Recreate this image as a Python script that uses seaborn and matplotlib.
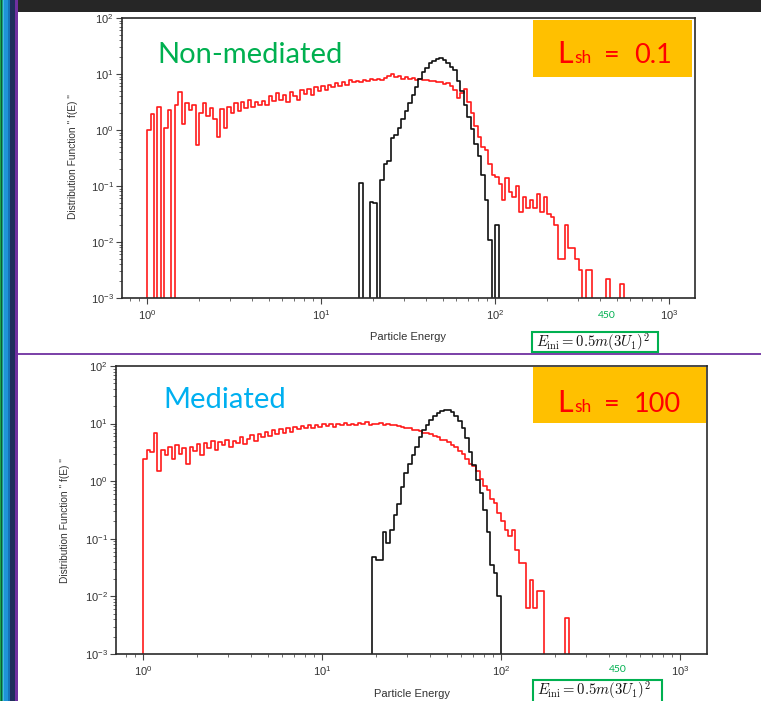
import numpy as np
import matplotlib
matplotlib.use("Agg")
import matplotlib.pyplot as plt
import seaborn as sns
from matplotlib.patches import Rectangle
from matplotlib.ticker import LogLocator, NullFormatter

# ---------------------------------------------------------------------------
# data: histogram bin contents f(E), log-spaced bins of 0.02 dex starting at E=1
# ---------------------------------------------------------------------------
BIN_DEX = 0.02

# top panel (non-mediated, L_sh = 0.1)
top_red_first_bin = 0
top_red_f = [
    1.0, 1.9, 0, 2.6, 0, 1.1, 2.3, 0, 2.8, 4.8,
    1.3, 3.0, 2.3, 2.8, 0.54, 2.0, 3.0, 1.8, 2.5, 1.6,
    0.76, 2.4, 1.1, 2.6, 2.0, 3.0, 2.2, 3.2, 2.5, 3.5,
    2.6, 3.2, 2.8, 3.3, 2.8, 4.0, 3.3, 4.6, 3.5, 4.2,
    3.2, 4.8, 4.0, 3.5, 5.2, 4.4, 5.5, 4.2, 5.8, 5.0,
    6.0, 5.2, 6.3, 5.8, 6.8, 6.0, 7.2, 6.3, 7.9, 7.2,
    7.6, 7.2, 7.9, 7.6, 8.1, 7.8, 8.3, 7.9, 8.5, 9.3,
    10.0, 8.7, 9.1, 8.3, 8.7, 8.1, 8.5, 7.9, 8.3, 7.8,
    7.9, 7.4, 7.6, 7.1, 7.2, 6.6, 6.9, 6.0, 5.2, 3.8,
    4.6, 5.5, 3.2, 2.0, 1.2, 0.74, 0.50, 0.44, 0.25, 0.16,
    0.145, 0.11, 0.056, 0.14, 0.079, 0.063, 0.10, 0.035, 0.063, 0.040,
    0.056, 0.040, 0.071, 0.035, 0.063, 0.032, 0.028, 0.020, 0.005, 0.005,
    0.020, 0.0079, 0.0079, 0.005, 0.0032, 0, 0.0032, 0.0032, 0, 0,
    0, 0, 0.0022, 0, 0, 0, 0.0018,
]
top_black_first_bin = 61
top_black_f = [
    0.115, 0, 0, 0.052, 0.050, 0, 0.13, 0.25, 0.28, 0.71,
    0.83, 1.1, 1.6, 2.2, 3.0, 4.2, 5.8, 8.3, 11.0, 13.0,
    15.5, 17.0, 18.6, 19.0, 17.8, 15.5, 13.2, 12.0, 7.6, 5.0,
    2.8, 1.7, 1.05, 0.56, 0.35, 0.16, 0.056, 0.011, 0, 0.020,
]

# bottom panel (mediated, L_sh = 100)
bot_red_first_bin = 0
bot_red_f = [
    2.4, 3.5, 3.2, 6.8, 1.5, 3.5, 2.8, 4.0, 2.4, 4.2,
    3.0, 3.8, 2.0, 4.0, 3.3, 4.4, 2.8, 4.6, 3.8, 5.0,
    3.5, 4.8, 4.2, 5.2, 4.0, 5.0, 4.6, 5.8, 4.4, 5.5,
    6.3, 5.0, 6.6, 5.8, 7.2, 6.0, 7.6, 6.6, 7.9, 6.9,
    8.3, 7.2, 8.7, 7.9, 9.1, 8.3, 9.5, 8.5, 9.3, 8.9,
    10.0, 9.1, 9.8, 8.9, 10.0, 9.3, 10.2, 9.5, 10.0, 9.3,
    10.2, 9.8, 10.5, 9.5, 10.0, 9.8, 10.2, 9.5, 10.0, 9.3,
    9.5, 9.1, 8.9, 8.3, 8.5, 7.8, 7.6, 7.4, 6.9, 6.8,
    6.5, 6.0, 5.9, 5.2, 5.1, 4.8, 4.3, 4.0, 3.3, 3.0,
    2.4, 2.0, 1.8, 1.5, 1.1, 0.83, 0.71, 0.50, 0.42, 0.28,
    0.20, 0.14, 0.11, 0.14, 0.063, 0.038, 0.038, 0.0063, 0.019, 0.0063,
    0.0126, 0.0126, 0, 0, 0, 0, 0, 0, 0.0042,
]
bot_black_first_bin = 64
bot_black_f = [
    0.049, 0.043, 0.043, 0.13, 0.083, 0.14, 0.26, 0.40, 0.79, 1.4,
    2.0, 2.8, 4.0, 5.8, 7.6, 9.5, 11.7, 13.5, 15.1, 16.6,
    17.4, 17.4, 16.2, 13.8, 11.2, 8.3, 5.6, 3.2, 1.9, 1.05,
    0.63, 0.32, 0.13, 0.035, 0.025, 0.010,
]

x_major = [1, 10, 100, 1000]
panel_names = ["Non-mediated", "Mediated"]
panel_colors = ["#00B050", "#00B0F0"]
lsh_values = ["0.1", "100"]
e_marker = "450"
e_formula = r"$E_{\rm ini} = 0.5m(3U_1)^2$"
ylabel = 'Distribution Function " f(E) "'
xlabel = "Particle Energy"

RED = "#FF1A1A"
BLACK = "#111111"

W, H = 761, 701

sns.set_style("ticks")
plt.rcParams["font.family"] = ["Liberation Sans", "DejaVu Sans"]
plt.rcParams["mathtext.fontset"] = "custom"
plt.rcParams["mathtext.rm"] = "Liberation Sans"
plt.rcParams["mathtext.it"] = "Liberation Sans:italic"
plt.rcParams["mathtext.bf"] = "Liberation Sans:bold"


def fx(x):
    return x / W


def fy(y):
    return 1 - y / H


def step_hist(ax, first_bin, values, color):
    vals = np.asarray(values, dtype=float)
    edges = 10 ** (BIN_DEX * (first_bin + np.arange(len(vals) + 1)))
    x = np.concatenate([[edges[0]], edges])
    y = np.concatenate([[0.0], vals, [0.0]])
    sns.lineplot(x=x, y=y, ax=ax, estimator=None, sort=False,
                 drawstyle="steps-post", color=color, lw=1.2)


def style_axes(ax, xlim):
    ax.set_xscale("log")
    ax.set_yscale("log")
    ax.set_xlim(*xlim)
    ax.set_ylim(1e-3, 1e2)
    ax.set_xticks(x_major)
    ax.xaxis.set_minor_locator(LogLocator(base=10, subs=np.arange(2, 10), numticks=30))
    ax.xaxis.set_minor_formatter(NullFormatter())
    ax.yaxis.set_major_locator(LogLocator(base=10, numticks=10))
    ax.yaxis.set_minor_locator(LogLocator(base=10, subs=np.arange(2, 10), numticks=30))
    ax.yaxis.set_minor_formatter(NullFormatter())
    ax.tick_params(which="major", direction="out", length=4, width=0.8,
                   color="#444444", labelsize=8, labelcolor="#333333", pad=3)
    ax.tick_params(which="minor", direction="out", length=2.5, width=0.6, color="#555555")
    ax.tick_params(axis="y", pad=2)
    for s in ax.spines.values():
        s.set_color("#2a2a2a")
        s.set_linewidth(1.2)
    ax.set_xlabel("")
    ax.set_ylabel("")


fig = plt.figure(figsize=(W / 100, H / 100), dpi=100, facecolor="white")

# axes boxes (pixel positions)
panels = [
    dict(box=(122, 18, 695, 298), xlim=(0.718, 1410),
         red=(top_red_first_bin, top_red_f), black=(top_black_first_bin, top_black_f),
         ylab=(73, 157), xlab=(408, 337), name_xy=(157, 63), lsh_box=(533, 20, 692, 77),
         lsh_base=63, mark_xy=(607, 315), formula_box=(532, 332, 658, 352), formula_y=342.5),
    dict(box=(116, 366, 707, 654), xlim=(0.706, 1416),
         red=(bot_red_first_bin, bot_red_f), black=(bot_black_first_bin, bot_black_f),
         ylab=(65, 521), xlab=(412, 694), name_xy=(163, 408), lsh_box=(533, 367, 706, 423),
         lsh_base=412, mark_xy=(618, 669), formula_box=(533, 680, 662, 703), formula_y=690.5),
]

for i, p in enumerate(panels):
    x0, y0, x1, y1 = p["box"]
    ax = fig.add_axes([fx(x0), fy(y1), (x1 - x0) / W, (y1 - y0) / H])
    ax.set_facecolor("white")
    step_hist(ax, *p["red"], RED)
    step_hist(ax, *p["black"], BLACK)
    style_axes(ax, p["xlim"])

    fig.text(fx(p["ylab"][0]), fy(p["ylab"][1]), ylabel, rotation=90,
             ha="center", va="center", fontsize=7.3, color="#333333")
    fig.text(fx(p["xlab"][0]), fy(p["xlab"][1]), xlabel,
             ha="center", va="center", fontsize=8, color="#333333")

    fig.text(fx(p["name_xy"][0]), fy(p["name_xy"][1]), panel_names[i],
             ha="left", va="baseline", fontsize=21, color=panel_colors[i], family="Lato")

    bx0, by0, bx1, by1 = p["lsh_box"]
    fig.add_artist(Rectangle((fx(bx0), fy(by1)), (bx1 - bx0) / W, (by1 - by0) / H,
                             transform=fig.transFigure, facecolor="#FFC000",
                             edgecolor="none", zorder=2))
    base = fy(p["lsh_base"])
    fig.text(fx(557), base, "L", ha="left", va="baseline", fontsize=22,
             color="#FF0000", family="Lato", zorder=3)
    fig.text(fx(574), base, "sh", ha="left", va="baseline", fontsize=12.5,
             color="#FF0000", family="Lato", zorder=3)
    fig.text(fx(604), base, "=", ha="left", va="baseline", fontsize=19.5,
             color="#FF0000", family="Lato", zorder=3)
    fig.text(fx(634), base, lsh_values[i], ha="left", va="baseline", fontsize=19.5,
             color="#FF0000", family="Lato", zorder=3)

    fig.text(fx(p["mark_xy"][0]), fy(p["mark_xy"][1]), e_marker, ha="center",
             va="center", fontsize=7.5, color="#00B050", family="Lato")

    gx0, gy0, gx1, gy1 = p["formula_box"]
    fig.add_artist(Rectangle((fx(gx0), fy(gy1)), (gx1 - gx0) / W, (gy1 - gy0) / H,
                             transform=fig.transFigure, facecolor="white",
                             edgecolor="#00B050", lw=1.5, zorder=2))
    fig.text(fx(gx0 + 4), fy(p["formula_y"]), e_formula, ha="left",
             va="center", fontsize=10.6, color="#111111", math_fontfamily="cm", zorder=3)

# slide decorations: separator, title bar, left colour stripes
fig.add_artist(plt.Line2D([fx(14), 1], [fy(354), fy(354)], transform=fig.transFigure,
                          color="#7030A0", lw=1.3))
fig.add_artist(Rectangle((fx(18), fy(12)), 1, 12 / H, transform=fig.transFigure,
                         facecolor="#262626", edgecolor="none", zorder=4))
stripes = [(0, 1, "#1BA34A"), (1, 2, "#0F5A3A"), (2, 3, "#1BA37A"), (3, 4, "#46B4E6"),
           (4, 7.5, "#1E94D8"), (7.5, 10, "#1672B8"), (10, 15, "#1F2E5C"), (15, 18, "#7030A0")]
for s0, s1, c in stripes:
    fig.add_artist(Rectangle((fx(s0), 0), (s1 - s0) / W, 1, transform=fig.transFigure,
                             facecolor=c, edgecolor="none", zorder=4))

fig.savefig("out.png", dpi=100, facecolor="white")
